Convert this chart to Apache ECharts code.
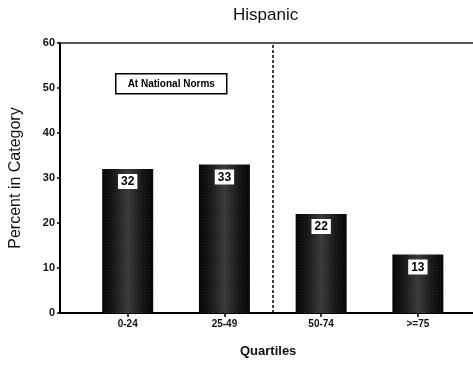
<!DOCTYPE html>
<html>
<head>
<meta charset="utf-8">
<script src="https://cdn.jsdelivr.net/npm/echarts@6/dist/echarts.min.js"></script>
<style>
  html, body { margin: 0; padding: 0; background: #fff; }
  #chart { width: 473px; height: 374px; }
</style>
</head>
<body>
<div id="chart"></div>
<script>
// Quartile bands and the share of students falling in each
const quartiles = ['0-24', '25-49', '50-74', '>=75'];
const percents = [32, 33, 22, 13];
const yTicks = [0, 10, 20, 30, 40, 50, 60];
const chartTitle = 'Hispanic';
const noteText = 'At National Norms';

const FONT = '"Liberation Sans", Arial, Helvetica, sans-serif';
const positions = quartiles.map((_, i) => i);

const chart = echarts.init(document.getElementById('chart'), null, { renderer: 'canvas' });

chart.setOption({
  animation: false,
  backgroundColor: '#ffffff',
  textStyle: { fontFamily: FONT },
  grid: { left: 55, right: 0, top: 43, bottom: 61, containLabel: false },
  graphic: [
    {
      type: 'text', left: 233, top: 7,
      style: { text: chartTitle, font: '17px ' + FONT, fill: '#111' }
    },
    {
      type: 'text', left: 240, top: 345,
      style: { text: 'Quartiles', font: 'bold 13px ' + FONT, fill: '#111' }
    },
    {
      type: 'group', left: 115, top: 73,
      children: [
        { type: 'rect', shape: { x: 0, y: 0, width: 111, height: 20 },
          style: { fill: '#fff', stroke: '#000', lineWidth: 1.5 } },
        { type: 'text', x: 55.5, y: 10,
          style: { text: noteText, font: 'bold 10px ' + FONT, fill: '#000',
                   align: 'center', verticalAlign: 'middle' } }
      ]
    }
  ],
  xAxis: [
    {
      type: 'value', position: 'bottom',
      min: -0.7, max: 3.57,
      axisLine: { show: true, onZero: false, lineStyle: { color: '#000', width: 2 } },
      axisTick: { show: true, length: 4, customValues: positions, lineStyle: { color: '#000', width: 1.5 } },
      axisLabel: {
        customValues: positions, margin: 6,
        formatter: v => quartiles[Math.round(v)] || '',
        color: '#111', fontWeight: 'bold', fontSize: 10, fontFamily: FONT
      },
      splitLine: { show: false }
    },
    {
      type: 'value', position: 'top',
      min: -0.7, max: 3.57,
      axisLine: { show: true, onZero: false, lineStyle: { color: '#222', width: 1.5 } },
      axisTick: { show: false }, axisLabel: { show: false }, splitLine: { show: false }
    }
  ],
  yAxis: {
    type: 'value', min: 0, max: 60, interval: 10,
    name: 'Percent in Category', nameLocation: 'middle', nameRotate: 90, nameGap: 36,
    nameTextStyle: { fontSize: 16, color: '#111', fontFamily: FONT },
    axisLine: { show: true, onZero: false, lineStyle: { color: '#000', width: 2 } },
    axisTick: { show: true, length: 3, lineStyle: { color: '#000', width: 1.5 } },
    axisLabel: {
      margin: 5, color: '#111', fontWeight: 'bold', fontSize: 11, fontFamily: FONT,
      formatter: v => (yTicks.indexOf(v) >= 0 ? String(v) : '')
    },
    splitLine: { show: false }
  },
  series: [{
    type: 'bar',
    xAxisIndex: 0,
    data: percents.map((p, i) => [positions[i], p]),
    barWidth: 51,
    itemStyle: {
      color: {
        type: 'linear', x: 0, y: 0, x2: 1, y2: 0,
        colorStops: [
          { offset: 0, color: '#050505' },
          { offset: 0.2, color: '#151515' },
          { offset: 0.5, color: '#3a3a3a' },
          { offset: 0.8, color: '#151515' },
          { offset: 1, color: '#050505' }
        ]
      },
      decal: {
        symbol: 'rect', symbolSize: 0.6,
        color: 'rgba(150,150,150,0.35)',
        dashArrayX: [[1, 3], [2, 2]], dashArrayY: [1, 2]
      }
    },
    label: {
      show: true, position: 'insideTop', distance: 5,
      formatter: p => String(p.value[1]),
      backgroundColor: '#fff', padding: [2, 3, 1, 3],
      color: '#000', fontWeight: 'bold', fontSize: 12, fontFamily: FONT
    },
    markLine: {
      silent: true, symbol: 'none',
      label: { show: false },
      lineStyle: { color: '#000', type: [3, 2], width: 1.5 },
      data: [{ xAxis: 1.5 }]
    }
  }]
});
</script>
</body>
</html>
